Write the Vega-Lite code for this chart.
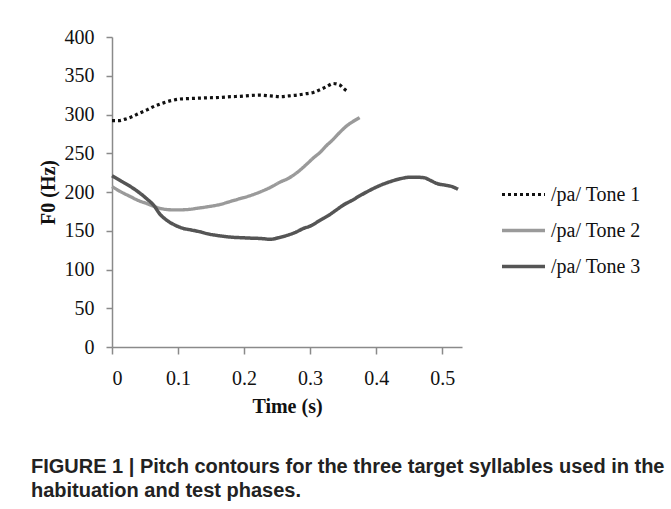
{
  "$schema": "https://vega.github.io/schema/vega-lite/v6.json",
  "width": 350,
  "height": 310,
  "autosize": {"type": "none"},
  "padding": {"left": 112, "top": 37, "right": 209, "bottom": 162},
  "background": "white",
  "title": {
    "text": ["FIGURE 1 | Pitch contours for the three target syllables used in the", "habituation and test phases."],
    "orient": "bottom",
    "anchor": "start",
    "frame": "group",
    "dx": -81,
    "offset": 41,
    "font": "Liberation Sans",
    "fontWeight": "bold",
    "fontSize": 20,
    "lineHeight": 24,
    "color": "#222"
  },
  "data": {
    "values": [
      {"tone": "/pa/ Tone 1", "t": 0.000, "f0": 292},
      {"tone": "/pa/ Tone 1", "t": 0.010, "f0": 292},
      {"tone": "/pa/ Tone 1", "t": 0.020, "f0": 294},
      {"tone": "/pa/ Tone 1", "t": 0.030, "f0": 297},
      {"tone": "/pa/ Tone 1", "t": 0.040, "f0": 301},
      {"tone": "/pa/ Tone 1", "t": 0.053, "f0": 306},
      {"tone": "/pa/ Tone 1", "t": 0.065, "f0": 311},
      {"tone": "/pa/ Tone 1", "t": 0.078, "f0": 315},
      {"tone": "/pa/ Tone 1", "t": 0.090, "f0": 318},
      {"tone": "/pa/ Tone 1", "t": 0.103, "f0": 320},
      {"tone": "/pa/ Tone 1", "t": 0.115, "f0": 320.5},
      {"tone": "/pa/ Tone 1", "t": 0.129, "f0": 321},
      {"tone": "/pa/ Tone 1", "t": 0.145, "f0": 321.5},
      {"tone": "/pa/ Tone 1", "t": 0.164, "f0": 322},
      {"tone": "/pa/ Tone 1", "t": 0.180, "f0": 323},
      {"tone": "/pa/ Tone 1", "t": 0.194, "f0": 323.5},
      {"tone": "/pa/ Tone 1", "t": 0.210, "f0": 324.5},
      {"tone": "/pa/ Tone 1", "t": 0.224, "f0": 325},
      {"tone": "/pa/ Tone 1", "t": 0.240, "f0": 324},
      {"tone": "/pa/ Tone 1", "t": 0.255, "f0": 323},
      {"tone": "/pa/ Tone 1", "t": 0.268, "f0": 324},
      {"tone": "/pa/ Tone 1", "t": 0.280, "f0": 325},
      {"tone": "/pa/ Tone 1", "t": 0.295, "f0": 327},
      {"tone": "/pa/ Tone 1", "t": 0.305, "f0": 328.5},
      {"tone": "/pa/ Tone 1", "t": 0.315, "f0": 332},
      {"tone": "/pa/ Tone 1", "t": 0.325, "f0": 336},
      {"tone": "/pa/ Tone 1", "t": 0.335, "f0": 340},
      {"tone": "/pa/ Tone 1", "t": 0.345, "f0": 338},
      {"tone": "/pa/ Tone 1", "t": 0.350, "f0": 334},
      {"tone": "/pa/ Tone 1", "t": 0.356, "f0": 330},
      {"tone": "/pa/ Tone 2", "t": 0.000, "f0": 207},
      {"tone": "/pa/ Tone 2", "t": 0.014, "f0": 200},
      {"tone": "/pa/ Tone 2", "t": 0.028, "f0": 194},
      {"tone": "/pa/ Tone 2", "t": 0.040, "f0": 189},
      {"tone": "/pa/ Tone 2", "t": 0.053, "f0": 185},
      {"tone": "/pa/ Tone 2", "t": 0.065, "f0": 181},
      {"tone": "/pa/ Tone 2", "t": 0.078, "f0": 178},
      {"tone": "/pa/ Tone 2", "t": 0.091, "f0": 177},
      {"tone": "/pa/ Tone 2", "t": 0.103, "f0": 177},
      {"tone": "/pa/ Tone 2", "t": 0.116, "f0": 177.5},
      {"tone": "/pa/ Tone 2", "t": 0.129, "f0": 179},
      {"tone": "/pa/ Tone 2", "t": 0.145, "f0": 181},
      {"tone": "/pa/ Tone 2", "t": 0.164, "f0": 184},
      {"tone": "/pa/ Tone 2", "t": 0.180, "f0": 188},
      {"tone": "/pa/ Tone 2", "t": 0.194, "f0": 191.5},
      {"tone": "/pa/ Tone 2", "t": 0.210, "f0": 195.5},
      {"tone": "/pa/ Tone 2", "t": 0.224, "f0": 200},
      {"tone": "/pa/ Tone 2", "t": 0.240, "f0": 206},
      {"tone": "/pa/ Tone 2", "t": 0.255, "f0": 213},
      {"tone": "/pa/ Tone 2", "t": 0.268, "f0": 218},
      {"tone": "/pa/ Tone 2", "t": 0.280, "f0": 225},
      {"tone": "/pa/ Tone 2", "t": 0.295, "f0": 236},
      {"tone": "/pa/ Tone 2", "t": 0.305, "f0": 244},
      {"tone": "/pa/ Tone 2", "t": 0.315, "f0": 251},
      {"tone": "/pa/ Tone 2", "t": 0.325, "f0": 260},
      {"tone": "/pa/ Tone 2", "t": 0.335, "f0": 268},
      {"tone": "/pa/ Tone 2", "t": 0.345, "f0": 277},
      {"tone": "/pa/ Tone 2", "t": 0.355, "f0": 285},
      {"tone": "/pa/ Tone 2", "t": 0.365, "f0": 291},
      {"tone": "/pa/ Tone 2", "t": 0.375, "f0": 296},
      {"tone": "/pa/ Tone 3", "t": 0.000, "f0": 221},
      {"tone": "/pa/ Tone 3", "t": 0.014, "f0": 214},
      {"tone": "/pa/ Tone 3", "t": 0.028, "f0": 207},
      {"tone": "/pa/ Tone 3", "t": 0.040, "f0": 200},
      {"tone": "/pa/ Tone 3", "t": 0.053, "f0": 191},
      {"tone": "/pa/ Tone 3", "t": 0.063, "f0": 183},
      {"tone": "/pa/ Tone 3", "t": 0.073, "f0": 171},
      {"tone": "/pa/ Tone 3", "t": 0.083, "f0": 163.5},
      {"tone": "/pa/ Tone 3", "t": 0.096, "f0": 157},
      {"tone": "/pa/ Tone 3", "t": 0.108, "f0": 153},
      {"tone": "/pa/ Tone 3", "t": 0.120, "f0": 151},
      {"tone": "/pa/ Tone 3", "t": 0.134, "f0": 148.5},
      {"tone": "/pa/ Tone 3", "t": 0.145, "f0": 146},
      {"tone": "/pa/ Tone 3", "t": 0.159, "f0": 144},
      {"tone": "/pa/ Tone 3", "t": 0.172, "f0": 142.5},
      {"tone": "/pa/ Tone 3", "t": 0.184, "f0": 141.5},
      {"tone": "/pa/ Tone 3", "t": 0.197, "f0": 141},
      {"tone": "/pa/ Tone 3", "t": 0.209, "f0": 140.5},
      {"tone": "/pa/ Tone 3", "t": 0.225, "f0": 140},
      {"tone": "/pa/ Tone 3", "t": 0.240, "f0": 139},
      {"tone": "/pa/ Tone 3", "t": 0.252, "f0": 141},
      {"tone": "/pa/ Tone 3", "t": 0.265, "f0": 144},
      {"tone": "/pa/ Tone 3", "t": 0.278, "f0": 148},
      {"tone": "/pa/ Tone 3", "t": 0.290, "f0": 153},
      {"tone": "/pa/ Tone 3", "t": 0.300, "f0": 156},
      {"tone": "/pa/ Tone 3", "t": 0.315, "f0": 163.5},
      {"tone": "/pa/ Tone 3", "t": 0.330, "f0": 171},
      {"tone": "/pa/ Tone 3", "t": 0.340, "f0": 177},
      {"tone": "/pa/ Tone 3", "t": 0.350, "f0": 183},
      {"tone": "/pa/ Tone 3", "t": 0.363, "f0": 189},
      {"tone": "/pa/ Tone 3", "t": 0.376, "f0": 195.5},
      {"tone": "/pa/ Tone 3", "t": 0.390, "f0": 202},
      {"tone": "/pa/ Tone 3", "t": 0.406, "f0": 208.5},
      {"tone": "/pa/ Tone 3", "t": 0.420, "f0": 213},
      {"tone": "/pa/ Tone 3", "t": 0.436, "f0": 217},
      {"tone": "/pa/ Tone 3", "t": 0.451, "f0": 219},
      {"tone": "/pa/ Tone 3", "t": 0.462, "f0": 219},
      {"tone": "/pa/ Tone 3", "t": 0.472, "f0": 218.5},
      {"tone": "/pa/ Tone 3", "t": 0.482, "f0": 215},
      {"tone": "/pa/ Tone 3", "t": 0.492, "f0": 211},
      {"tone": "/pa/ Tone 3", "t": 0.507, "f0": 208.5},
      {"tone": "/pa/ Tone 3", "t": 0.515, "f0": 207},
      {"tone": "/pa/ Tone 3", "t": 0.524, "f0": 203.5}
    ]
  },
  "mark": {"type": "line", "interpolate": "monotone", "strokeCap": "butt", "clip": false},
  "encoding": {
    "x": {
      "field": "t", "type": "quantitative",
      "scale": {"domain": [0, 0.53], "nice": false, "zero": false},
      "axis": {
        "title": "Time (s)",
        "values": [0, 0.1, 0.2, 0.3, 0.4, 0.5],
        "format": ".1~f",
        "grid": false,
        "domainColor": "#8a8a8a", "domainWidth": 1.5,
        "tickColor": "#8a8a8a", "tickWidth": 1.5, "tickSize": 7,
        "labelFont": "Liberation Serif", "labelFontSize": 20, "labelColor": "#111",
        "labelPadding": 14,
        "titleFont": "Liberation Serif", "titleFontSize": 20, "titleFontWeight": "bold", "titleColor": "#111",
        "titlePadding": 8
      }
    },
    "y": {
      "field": "f0", "type": "quantitative",
      "scale": {"domain": [0, 400], "nice": false},
      "axis": {
        "title": "F0 (Hz)",
        "values": [0, 50, 100, 150, 200, 250, 300, 350, 400],
        "grid": false,
        "domainColor": "#8a8a8a", "domainWidth": 1.5,
        "tickColor": "#8a8a8a", "tickWidth": 1.5, "tickSize": 6,
        "labelFont": "Liberation Serif", "labelFontSize": 20, "labelColor": "#111",
        "labelPadding": 12,
        "titleFont": "Liberation Serif", "titleFontSize": 20, "titleFontWeight": "bold", "titleColor": "#111",
        "titlePadding": 6
      }
    },
    "color": {
      "field": "tone", "type": "nominal",
      "scale": {"domain": ["/pa/ Tone 1", "/pa/ Tone 2", "/pa/ Tone 3"], "range": ["#111111", "#9a9a9a", "#555555"]},
      "legend": {
        "title": null,
        "orient": "none",
        "legendX": 388,
        "legendY": 134,
        "padding": 0,
        "symbolType": "stroke",
        "symbolSize": 1849,
        "symbolStrokeWidth": 3,
        "rowPadding": 2,
        "labelOffset": 4,
        "labelFont": "Liberation Serif",
        "labelFontSize": 20,
        "labelColor": "#111",
        "encode": {
          "symbols": {
            "update": {
              "strokeDash": {"signal": "datum.label == '/pa/ Tone 1' ? [3, 4] : datum.label == '/pa/ Tone 2' ? [8, 3] : [1, 0]"},
              "strokeWidth": {"signal": "datum.label == '/pa/ Tone 3' ? 4.5 : 3"}
            }
          }
        }
      }
    },
    "strokeDash": {
      "field": "tone", "type": "nominal",
      "scale": {"domain": ["/pa/ Tone 1", "/pa/ Tone 2", "/pa/ Tone 3"], "range": [[3, 3], [1, 0], [1, 0]]},
      "legend": null
    },
    "strokeWidth": {
      "field": "tone", "type": "nominal",
      "scale": {"domain": ["/pa/ Tone 1", "/pa/ Tone 2", "/pa/ Tone 3"], "range": [3.2, 3.5, 4.5]},
      "legend": null
    }
  },
  "config": {"view": {"stroke": null}}
}
